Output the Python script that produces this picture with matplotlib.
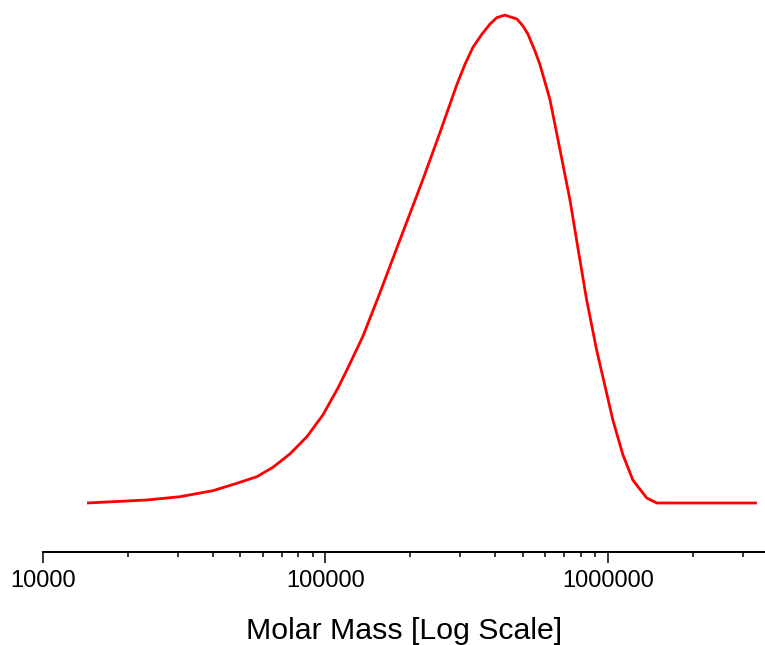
import numpy as np
import matplotlib.pyplot as plt
from matplotlib.ticker import FixedLocator, FixedFormatter, LogLocator, NullFormatter

plt.rcParams['font.family'] = ['Liberation Sans', 'DejaVu Sans']

# molar mass (g/mol) and normalised detector response
molar_mass = [14320, 17690, 23340, 30550, 39980, 48610, 57220, 65220, 74870,
              86030, 98000, 110700, 119200, 135700, 155900, 179100, 204000,
              221300, 254300, 292100, 311800, 332800, 358100, 382200, 404700,
              431900, 476400, 500100, 521200, 551500, 574500, 623300, 676300,
              733700, 785000, 840700, 912000, 1002500, 1041600, 1130000,
              1226000, 1374000, 1491000, 3369000]
response = [0.0, 0.27, 0.62, 1.29, 2.53, 4.05, 5.40, 7.33, 10.06,
            13.61, 18.07, 23.55, 27.3, 34.15, 43.06, 52.30, 60.9,
            66.3, 75.9, 85.8, 89.9, 93.4, 96.1, 98.15, 99.5,
            100.0, 99.2, 97.8, 96.1, 92.7, 89.9, 82.75, 72.5,
            62.2, 51.95, 41.7, 31.4, 21.15, 17.0, 9.9,
            4.7, 1.0, 0.0, 0.0]

major_ticks = [10000, 100000, 1000000]
major_labels = ["10000", "100000", "1000000"]

fig = plt.figure(figsize=(7.65, 6.45), dpi=100)
ax = fig.add_axes([0.0562, 0.1442, 0.9438, 0.8558])

ax.plot(molar_mass, response, color='#ff0000', linewidth=2.0,
        solid_joinstyle='round', solid_capstyle='butt')

ax.set_xscale('log')
ax.set_xlim(1e4, 3.6e6)
ax.set_ylim(-10.04, 103.1)

for side in ['top', 'right', 'left']:
    ax.spines[side].set_visible(False)
ax.spines['bottom'].set_linewidth(1.4)
ax.set_yticks([])

ax.xaxis.set_major_locator(FixedLocator(major_ticks))
ax.xaxis.set_major_formatter(FixedFormatter(major_labels))
ax.xaxis.set_minor_locator(LogLocator(base=10, subs=np.arange(2, 10)))
ax.xaxis.set_minor_formatter(NullFormatter())
ax.tick_params(axis='x', which='major', length=8, width=1.1, labelsize=17, pad=5)
ax.tick_params(axis='x', which='minor', length=3.8, width=1.1)

ax.set_xlabel("Molar Mass [Log Scale]", fontsize=21.8, labelpad=18)

fig.savefig("out.png", dpi=100)
